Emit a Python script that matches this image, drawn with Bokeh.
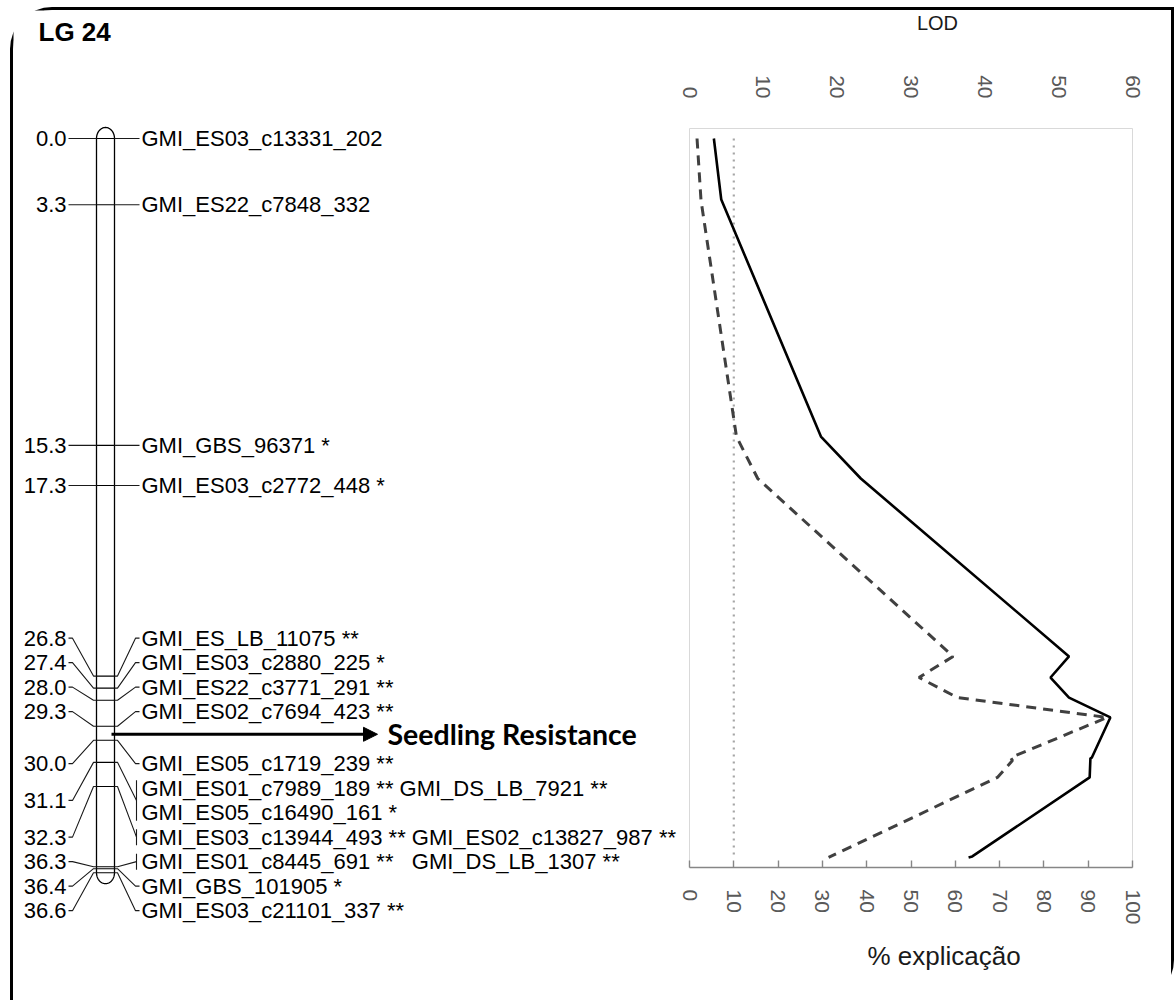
import math
import numpy as np
from bokeh.plotting import figure
from bokeh.models import (Range1d, LinearAxis, FixedTicker, Arrow, NormalHead, Title)
from bokeh.layouts import row, column
from bokeh.embed import file_html
from bokeh.resources import INLINE
from bokeh.core.properties import value

# ---------------- data ----------------
LG_NAME = "LG 24"

MARKER_CM = [0.0, 3.3, 15.3, 17.3, 26.8, 27.4, 28.0, 29.3, 30.0,
             31.1, 31.1, 32.3, 36.3, 36.4, 36.6]
MARKER_LABEL = [
    "GMI_ES03_c13331_202",
    "GMI_ES22_c7848_332",
    "GMI_GBS_96371 *",
    "GMI_ES03_c2772_448 *",
    "GMI_ES_LB_11075 **",
    "GMI_ES03_c2880_225 *",
    "GMI_ES22_c3771_291 **",
    "GMI_ES02_c7694_423 **",
    "GMI_ES05_c1719_239 **",
    "GMI_ES01_c7989_189 ** GMI_DS_LB_7921 **",
    "GMI_ES05_c16490_161 *",
    "GMI_ES03_c13944_493 ** GMI_ES02_c13827_987 **",
    "GMI_ES01_c8445_691 **\u00a0\u00a0 GMI_DS_LB_1307 **",
    "GMI_GBS_101905 *",
    "GMI_ES03_c21101_337 **",
]

QTL_CM = 29.7
QTL_LABEL = "Seedling Resistance"

# LOD profile (solid, LOD scale) and % explained (dashed, % scale)
SOLID_CM = [0.0, 3.04, 14.86, 16.95, 25.82, 26.87, 27.87, 28.86, 30.86,
            30.9, 31.85, 35.79, 35.84]
SOLID_LOD = [3.3, 4.3, 17.8, 23.2, 51.4, 48.9, 51.4, 57.0, 54.5,
             54.3, 54.2, 38.3, 37.8]
DASHED_CM = [0.0, 3.09, 14.86, 16.95, 25.82, 26.87, 27.87, 28.86, 30.86,
             31.01, 31.85, 35.84]
DASHED_PCT = [1.7, 2.6, 10.6, 15.4, 59.5, 51.8, 60.5, 94.3, 72.5,
              72.9, 69.5, 31.4]
LOD_THRESHOLD = 6.0

LOD_TICKS = [0, 10, 20, 30, 40, 50, 60]
PCT_TICKS = [0, 10, 20, 30, 40, 50, 60, 70, 80, 90, 100]
LOD_TITLE = "LOD"
PCT_TITLE = "% explicação"

# ---------------- layout constants (page pixels) ----------------
W, H = 1176, 1000
BORDER = 3
OX, OY = 13, 10            # content origin inside the rounded box
SPLIT = 678                # page x where the LOD column starts
INNER_W = 1158
INNER_H = H - OY
TITLE_H = 40               # height of the strip holding the LOD title
Y0 = 138.0                 # page row of 0 cM
PXCM = 20.06               # pixels per cM
FONT = value("Liberation Sans")


def px2cm(ypx):
    return (ypx - Y0) / PXCM


CL, CR = 96.0, 114.0       # chromosome edges
CX, RX = (CL + CR) / 2, (CR - CL) / 2
CAP = 11.0 / PXCM
LAB_X = 141.0
BX = 136.0
NUM_X = 66.0
GAP = 24.5 / PXCM
QGAP = 26.0 / PXCM
HALF_ROW = 8.0 / PXCM


def spread(targets, gaps):
    n = len(targets)
    clusters = [[i] for i in range(n)]

    def positions(cl):
        offs = [0.0]
        for i in cl[:-1]:
            offs.append(offs[-1] + gaps[i])
        center = (targets[cl[0]] + targets[cl[-1]]) / 2
        start = center - offs[-1] / 2
        return [start + o for o in offs]

    changed = True
    while changed:
        changed = False
        for k in range(len(clusters) - 1):
            a, b = clusters[k], clusters[k + 1]
            pa, pb = positions(a), positions(b)
            if pa[-1] + gaps[a[-1]] > pb[0] + 1e-9:
                clusters[k] = a + b
                del clusters[k + 1]
                changed = True
                break
    out = [0.0] * n
    for cl in clusters:
        for i, p in zip(cl, positions(cl)):
            out[i] = p
    return out


items = [(cm, "m", i) for i, cm in enumerate(MARKER_CM)]
qi = sum(1 for cm in MARKER_CM if cm <= QTL_CM)
items.insert(qi, (QTL_CM, "q", -1))
targets = [it[0] for it in items]
gaps = []
for k in range(len(items) - 1):
    if items[k][1] == "q" or items[k + 1][1] == "q":
        gaps.append(QGAP)
    else:
        gaps.append(GAP)
gaps.append(GAP)
pos = spread(targets, gaps)
label_y = [0.0] * len(MARKER_CM)
for it, p in zip(items, pos):
    if it[1] == "m":
        label_y[it[2]] = p

groups = []
for i, cm in enumerate(MARKER_CM):
    if groups and groups[-1][0] == cm:
        groups[-1][1].append(i)
    else:
        groups.append((cm, [i]))


def bare(fig):
    fig.xgrid.visible = False
    fig.ygrid.visible = False
    fig.background_fill_color = "white"
    fig.border_fill_color = "white"
    try:
        fig.frame_align = False
    except AttributeError:
        pass


# ---------------- left figure: linkage group ----------------
left = figure(width=SPLIT - OX, height=INNER_H, output_backend="svg", toolbar_location=None,
              title=None,
              x_range=Range1d(OX, SPLIT),
              y_range=Range1d(px2cm(H), px2cm(OY)),
              x_axis_location=None, y_axis_location=None,
              min_border=0, outline_line_color=None)
bare(left)

c_start, c_end = MARKER_CM[0], MARKER_CM[-1]
th1 = np.linspace(np.pi, 0, 40)
th2 = np.linspace(0, -np.pi, 40)
chrom_x = list(CX + RX * np.cos(th1)) + list(CX + RX * np.cos(th2))
chrom_y = list(c_start - CAP * np.sin(th1)) + list(c_end - CAP * np.sin(th2))
left.patch(chrom_x, chrom_y, fill_color="white", line_color="black", line_width=1.3)

left.multi_line([[CL, CR] for cm, _ in groups], [[cm, cm] for cm, _ in groups],
                line_color="black", line_width=1.1)

rx_s, ry_s = [], []
for cm, idx in groups:
    ys = [label_y[i] for i in idx]
    loci = sum(MARKER_LABEL[i].count("GMI") for i in idx)
    if loci > 1:
        mid = (min(ys) + max(ys)) / 2
        rx_s.append([CR, CR + 3, BX])
        ry_s.append([cm, cm, mid])
        rx_s.append([BX, BX])
        ry_s.append([min(ys) - HALF_ROW, max(ys) + HALF_ROW])
    else:
        rx_s.append([CR, CR + 3, BX - 1, BX + 3])
        ry_s.append([cm, cm, ys[0], ys[0]])
left.multi_line(rx_s, ry_s, line_color="#1a1a1a", line_width=1.1)

num_y = [sum(label_y[i] for i in idx) / len(idx) for cm, idx in groups]
lx_s, ly_s = [], []
for (cm, idx), ny in zip(groups, num_y):
    lx_s.append([NUM_X + 2, NUM_X + 6, CL - 3, CL])
    ly_s.append([ny, ny, cm, cm])
left.multi_line(lx_s, ly_s, line_color="#1a1a1a", line_width=1.1)

left.text(x=[NUM_X] * len(groups), y=num_y, text=["%.1f" % cm for cm, _ in groups],
          text_font=FONT, text_font_size="22px", text_align="right",
          text_baseline="middle", text_color="black")
left.text(x=[LAB_X] * len(MARKER_LABEL), y=label_y, text=MARKER_LABEL,
          text_font=FONT, text_font_size="22px", text_align="left",
          text_baseline="middle", text_color="black")

left.add_layout(Arrow(end=NormalHead(size=14, fill_color="black", line_color="black"),
                      x_start=CR - 3, y_start=QTL_CM, x_end=377, y_end=QTL_CM,
                      line_width=3, line_color="black"))
left.text(x=[387], y=[QTL_CM], text=[QTL_LABEL], text_font=value("Lato"),
          text_font_style="bold", text_font_size="28.5px", text_baseline="middle",
          text_color="black")

left.text(x=[38], y=[px2cm(31)], text=[LG_NAME], text_font=FONT,
          text_font_style="bold", text_font_size="26px", text_baseline="middle",
          text_color="black")

# ---------------- right column: LOD title strip + LOD profile ----------------
RW = OX + INNER_W - SPLIT
lod_title = figure(width=RW, height=TITLE_H, output_backend="svg", toolbar_location=None,
                   title=None, x_range=Range1d(SPLIT, OX + INNER_W),
                   y_range=Range1d(OY + TITLE_H, OY),
                   x_axis_location=None, y_axis_location=None,
                   min_border=0, outline_line_color=None)
bare(lod_title)
lod_title.text(x=[937], y=[OY + 12], text=[LOD_TITLE], text_font=FONT, text_font_size="20px",
               text_align="center", text_baseline="middle", text_color="#1a1a1a")

FR_LEFT, FR_TOP, FR_BOT, FR_RIGHT = 689, 128, 867, 1132
right = figure(width=RW, height=INNER_H - TITLE_H, output_backend="svg",
               toolbar_location=None, title=None,
               x_range=Range1d(PCT_TICKS[0], PCT_TICKS[-1]),
               y_range=Range1d(px2cm(FR_BOT), px2cm(FR_TOP)),
               y_axis_location=None,
               min_border_left=FR_LEFT - SPLIT,
               min_border_right=OX + INNER_W - FR_RIGHT,
               min_border_top=FR_TOP - OY - TITLE_H, min_border_bottom=H - FR_BOT)
right.extra_x_ranges = {"lod": Range1d(LOD_TICKS[0], LOD_TICKS[-1])}
bare(right)
right.outline_line_color = "#d9d9d9"
right.outline_line_width = 1

xa = right.xaxis[0]
xa.ticker = FixedTicker(ticks=PCT_TICKS)
xa.axis_line_color = "#868686"
xa.axis_line_width = 1.4
xa.major_tick_line_color = "#868686"
xa.major_tick_line_width = 1.4
xa.major_tick_in = 7
xa.major_tick_out = 0
xa.minor_tick_line_color = None
xa.major_label_orientation = -math.pi / 2
xa.major_label_text_font = "Liberation Sans"
xa.major_label_text_font_size = "21px"
xa.major_label_text_color = "#595959"
xa.major_label_standoff = 22

ta = LinearAxis(x_range_name="lod", ticker=FixedTicker(ticks=LOD_TICKS))
ta.axis_line_color = None
ta.major_tick_line_color = None
ta.minor_tick_line_color = None
ta.major_label_orientation = -math.pi / 2
ta.major_label_text_font = "Liberation Sans"
ta.major_label_text_font_size = "21px"
ta.major_label_text_color = "#595959"
ta.major_label_standoff = 24
right.add_layout(ta, "above")

right.add_layout(Title(text=PCT_TITLE, align="left", offset=178, standoff=23,
                       text_font="Liberation Sans", text_font_size="26px",
                       text_font_style="normal", text_color="#1a1a1a"), "below")

right.line([LOD_THRESHOLD, LOD_THRESHOLD], [SOLID_CM[0], SOLID_CM[-1]], x_range_name="lod",
           line_color="#a6a6a6", line_width=2.2, line_dash="2 5")
right.line(DASHED_PCT, DASHED_CM, line_color="#404040", line_width=3, line_dash="10 7")
right.line(SOLID_LOD, SOLID_CM, x_range_name="lod", line_color="black", line_width=2.6)

layout = row(left, column(lod_title, right), margin=(OY - BORDER, 0, 0, OX - BORDER),
             styles={"border-left": "%dpx solid black" % BORDER,
                     "border-top": "%dpx solid black" % BORDER,
                     "border-right": "%dpx solid black" % BORDER,
                     "border-top-left-radius": "42px",
                     "border-bottom-right-radius": "40px",
                     "width": "%dpx" % INNER_W, "height": "%dpx" % INNER_H,
                     "box-sizing": "content-box"})
open("out.html", "w").write(file_html(layout, INLINE))
